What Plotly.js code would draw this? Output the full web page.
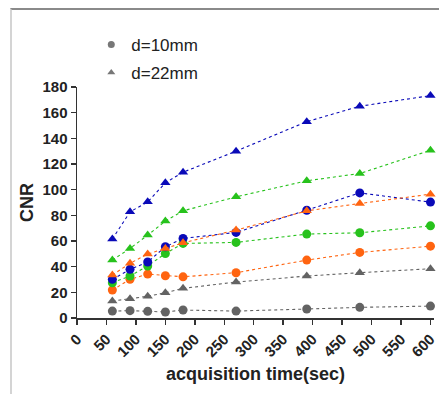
<!DOCTYPE html>
<html>
<head>
<meta charset="utf-8">
<script src="https://cdn.plot.ly/plotly-3.0.1.min.js"></script>
<style>
  html, body { margin: 0; padding: 0; background: #fff; }
  #frame { position: absolute; left: 10px; top: 8px; width: 429px; height: 386px;
           border-top: 2px solid #8a8a8a; border-left: 2px solid #d4d4d4; box-sizing: border-box; }
  #chart { position: absolute; left: 0; top: 0; width: 439px; height: 394px; }
</style>
</head>
<body>
<div id="frame"></div>
<div id="chart"></div>
<script>
// acquisition time (sec)
const times = [60, 90, 120, 150, 180, 270, 390, 480, 600];

// d=10mm (circles)
const gray10   = [5.4, 5.7, 5.2, 4.7, 6.2, 5.4, 7.0, 8.3, 9.3];
const orange10 = [21.8, 30.1, 34.2, 32.9, 32.1, 35.3, 45.1, 51.1, 56.0];
const green10  = [27.5, 32.7, 40.5, 50.3, 58.1, 58.9, 65.4, 66.4, 71.8];
const blue10   = [30.1, 37.9, 43.6, 55.5, 62.0, 66.7, 84.0, 97.5, 90.3];

// d=22mm (triangles)
const gray22   = [13.2, 15.0, 16.9, 19.7, 23.1, 28.0, 32.7, 35.3, 38.4];
const orange22 = [33.5, 42.6, 49.8, 54.2, 58.6, 68.5, 83.5, 89.2, 96.5];
const green22  = [45.1, 54.2, 64.6, 75.5, 83.5, 94.4, 106.9, 112.6, 130.7];
const blue22   = [61.5, 82.7, 90.5, 105.3, 113.6, 130.0, 153.0, 165.0, 173.3];

const legendNames = ['d=10mm', 'd=22mm'];
const xTicks = [0, 50, 100, 150, 200, 250, 300, 350, 400, 450, 500, 550, 600];
const yTicks = [0, 20, 40, 60, 80, 100, 120, 140, 160, 180];

const C = { gray: '#636363', orange: '#ff6410', green: '#27c21c', blue: '#0a0ab8' };

function series(y, color, symbol) {
  return {
    x: times, y: y, type: 'scatter', mode: 'lines+markers', showlegend: false,
    cliponaxis: false,
    line: { color: color, width: 1.1, dash: 'dot' },
    marker: { color: color, symbol: symbol, size: 9 }
  };
}

const traces = [
  series(gray10, C.gray, 'circle'),
  series(gray22, C.gray, 'triangle-up'),
  series(orange10, C.orange, 'circle'),
  series(green10, C.green, 'circle'),
  series(blue10, C.blue, 'circle'),
  series(orange22, C.orange, 'triangle-up'),
  series(green22, C.green, 'triangle-up'),
  series(blue22, C.blue, 'triangle-up'),
  { x: [null], y: [null], type: 'scatter', mode: 'markers', name: legendNames[0], legendgroup: 'a',
    marker: { color: '#777', symbol: 'circle', size: 7 } },
  { x: [null], y: [null], type: 'scatter', mode: 'markers', name: legendNames[1], legendgroup: 'b',
    marker: { color: '#777', symbol: 'triangle-up', size: 7 } }
];

const FONT = 'Liberation Sans, Arial, sans-serif';
const tickFont = { family: FONT, size: 15, color: '#222', weight: 'bold' };

const layout = {
  width: 439, height: 394,
  margin: { l: 77, r: 5, t: 87, b: 76, pad: 0 },
  paper_bgcolor: 'rgba(0,0,0,0)', plot_bgcolor: 'rgba(0,0,0,0)',
  showlegend: true,
  legend: {
    x: 0.04, y: 0.983, xanchor: 'left', yanchor: 'bottom',
    yref: 'paper', xref: 'paper',
    font: { family: FONT, size: 17, color: '#222' },
    tracegroupgap: 3, itemwidth: 30, bgcolor: 'rgba(0,0,0,0)'
  },
  xaxis: {
    range: [0, 606], tickvals: xTicks, ticktext: xTicks.map(String),
    tickangle: -45, ticks: 'outside', ticklen: 5, tickwidth: 1.5, tickcolor: '#333',
    showline: true, linecolor: '#333', linewidth: 1.5, showgrid: false, zeroline: false,
    tickfont: tickFont,
    title: { text: 'acquisition time(sec)', standoff: 8,
             font: { family: FONT, size: 18, color: '#222', weight: 'bold' } }
  },
  yaxis: {
    range: [0, 180], tickvals: yTicks, ticktext: yTicks.map(String),
    ticks: 'outside', ticklen: 5, tickwidth: 1.5, tickcolor: '#333',
    showline: true, linecolor: '#333', linewidth: 1.5, showgrid: false, zeroline: false,
    tickfont: tickFont,
    title: { text: 'CNR', standoff: 4,
             font: { family: FONT, size: 18, color: '#222', weight: 'bold' } }
  }
};

Plotly.newPlot('chart', traces, layout, { displayModeBar: false, staticPlot: true });
</script>
</body>
</html>
